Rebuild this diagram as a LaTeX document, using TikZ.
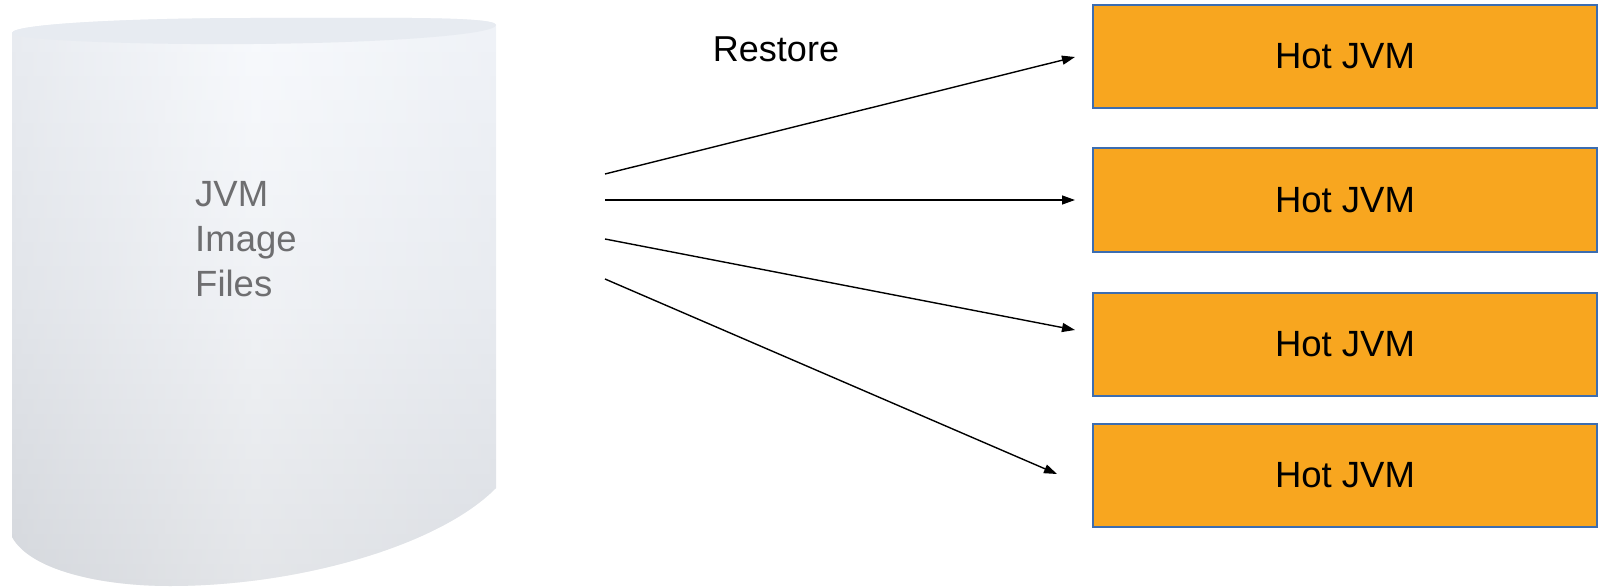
\documentclass[tikz,border=0pt]{standalone}
\usepackage{fontspec}
\setmainfont{Liberation Sans}
\usetikzlibrary{arrows.meta}
\definecolor{boxfill}{RGB}{248,166,31}
\definecolor{boxline}{RGB}{60,109,176}
\definecolor{cyltop}{RGB}{231,235,241}
\definecolor{cylhi}{RGB}{244,247,252}
\definecolor{cyllo}{RGB}{213,216,221}
\definecolor{cylmid}{RGB}{232,235,240}
\definecolor{labelgray}{RGB}{110,110,112}
\tikzset{
  hot/.style={draw=boxline, fill=boxfill, line width=2pt, minimum width=504pt, minimum height=103pt, inner sep=0pt, font=\fontsize{36.5}{40}\selectfont},
  conn/.style={line width=1.4pt, -{Triangle[length=13pt,width=9pt]}},
  cyltext/.style={anchor=base west, inner sep=0pt, text=labelgray, font=\fontsize{36.5}{40}\selectfont},
}
\begin{document}
\begin{tikzpicture}[x=1pt,y=-1pt]
\useasboundingbox (0,0) rectangle (1606,588);
\def\cylpath{(12,33) -- (12,537) .. controls (30,570) and (100,586) .. (170,586)
  .. controls (300,586) and (440,545) .. (496,488) -- (496,25)
  .. controls (496,16) and (380,18) .. (254,18)
  .. controls (130,18) and (12,24) .. (12,33) -- cycle}
% cylinder body
\shade[top color=cylhi, bottom color=cyllo, middle color=cylmid] \cylpath;
\begin{scope}
  \clip \cylpath;
  \shade[left color=cyllo, right color=cylmid, middle color=white, fill opacity=0.35]
    (12,0) rectangle (496,588);
\end{scope}
% top face
\fill[cyltop] (12,33) .. controls (12,24) and (130,18) .. (254,18)
  .. controls (380,18) and (496,16) .. (496,25)
  .. controls (496,35) and (380,43) .. (254,44)
  .. controls (130,45) and (12,40) .. (12,33) -- cycle;
\node[cyltext] (jvm) at (195,207) {JVM};
\node[cyltext] (image) at (195,251.5) {Image};
\node[cyltext] (files) at (195,296) {Files};
% label
\node[anchor=base, inner sep=0pt, font=\fontsize{36}{40}\selectfont] (restore) at (776,62) {Restore};
% boxes
\node[hot] (h1) at (1345,56.5) {Hot JVM};
\node[hot] (h2) at (1345,200) {Hot JVM};
\node[hot] (h3) at (1345,344) {Hot JVM};
\node[hot] (h4) at (1345,475) {Hot JVM};
% arrow ends
\coordinate (s1) at (605,174);
\coordinate (s2) at (605,200);
\coordinate (s3) at (605,239);
\coordinate (s4) at (605,279);
\coordinate (e1) at (1075,57);
\coordinate (e2) at (1075,200);
\coordinate (e3) at (1075,330);
\coordinate (e4) at (1057,474);
\draw[conn] (s1) -- (e1);
\draw[conn] (s2) -- (e2);
\draw[conn] (s3) -- (e3);
\draw[conn] (s4) -- (e4);
\end{tikzpicture}
\end{document}
